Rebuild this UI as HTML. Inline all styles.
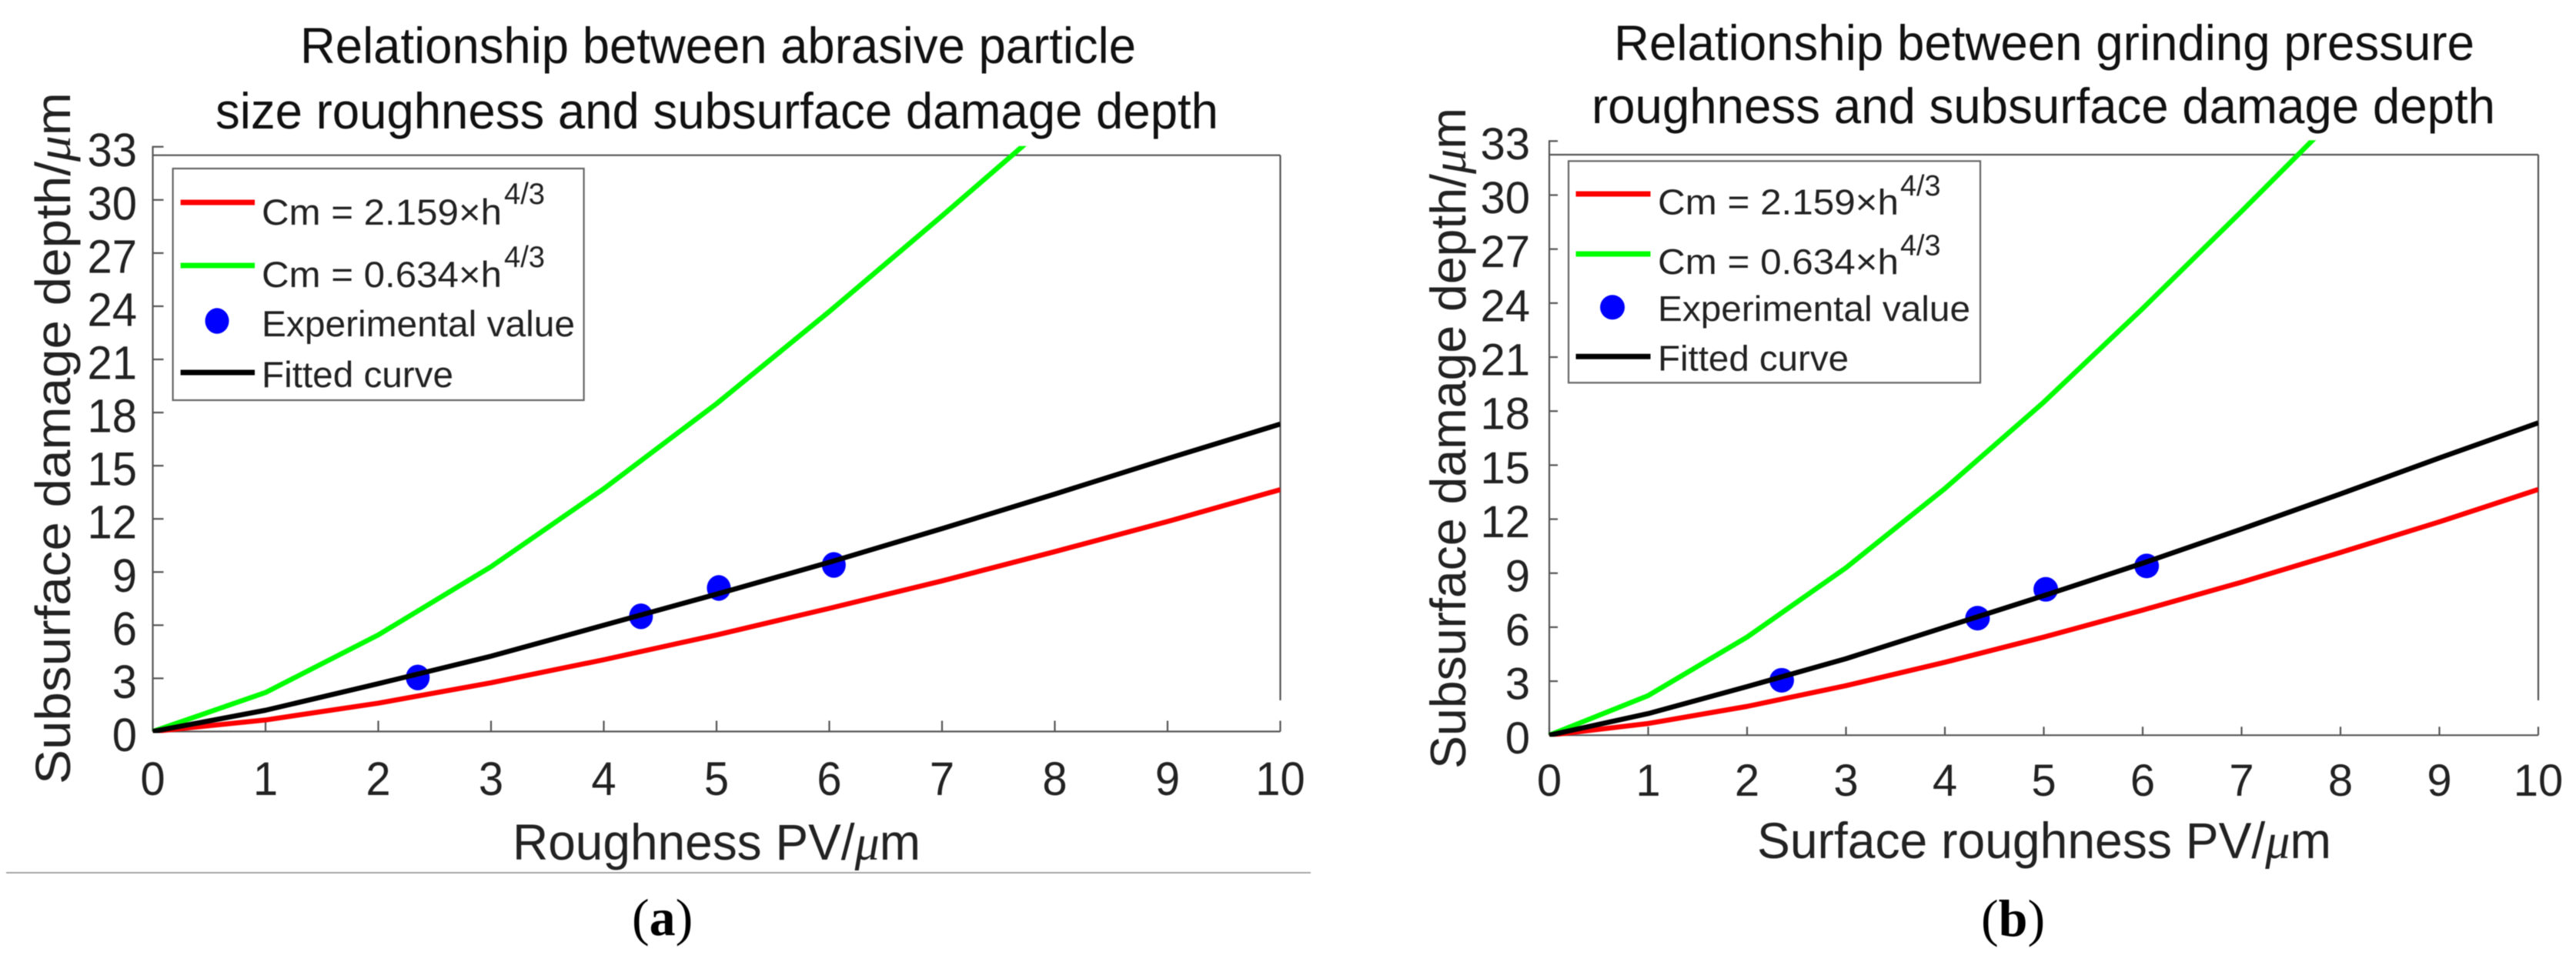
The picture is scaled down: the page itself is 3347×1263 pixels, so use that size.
<!DOCTYPE html>
<html lang="en">
<head>
<meta charset="utf-8">
<title>Subsurface damage depth charts</title>
<style>
html,body{margin:0;padding:0;background:#fff;}
svg{display:block;filter:blur(0.6px);}
text{font-family:"Liberation Sans",Arial,sans-serif;fill:#222;}
.mu{font-family:"Liberation Serif",serif;font-style:italic;}
.cap{font-family:"Liberation Serif",serif;fill:#000;}
</style>
</head>
<body>
<svg id="figure" xmlns="http://www.w3.org/2000/svg" width="3347" height="1263" viewBox="0 0 3347 1263">
  <rect x="0" y="0" width="3347" height="1263" fill="#fff"/>

  <!-- Panel A static text -->
  <g id="panel-a">
    <text x="390" y="82" font-size="66" textLength="1086" lengthAdjust="spacingAndGlyphs" style="fill:#111">Relationship between abrasive particle</text>
    <text x="280" y="167" font-size="66" textLength="1303" lengthAdjust="spacingAndGlyphs" style="fill:#111">size roughness and subsurface damage depth</text>
    <text transform="translate(91,1019) rotate(-90)" font-size="64" textLength="899" lengthAdjust="spacingAndGlyphs">Subsurface damage depth/<tspan class="mu">μ</tspan>m</text>
    <text x="666" y="1117" font-size="66" textLength="530" lengthAdjust="spacingAndGlyphs">Roughness PV/<tspan class="mu">μ</tspan>m</text>
  </g>

  <!-- Panel B static text -->
  <g id="panel-b">
    <text x="2097" y="78" font-size="65" textLength="1118" lengthAdjust="spacingAndGlyphs" style="fill:#111">Relationship between grinding pressure</text>
    <text x="2068" y="160" font-size="65" textLength="1174" lengthAdjust="spacingAndGlyphs" style="fill:#111">roughness and subsurface damage depth</text>
    <text transform="translate(1904,999) rotate(-90)" font-size="65" textLength="859" lengthAdjust="spacingAndGlyphs">Subsurface damage depth/<tspan class="mu">μ</tspan>m</text>
    <text x="2283" y="1115" font-size="66" textLength="746" lengthAdjust="spacingAndGlyphs">Surface roughness PV/<tspan class="mu">μ</tspan>m</text>
  </g>

  <line x1="8" y1="1134" x2="1703" y2="1134" stroke="#8a8a8a" stroke-width="1.6"/>
  <text class="cap" x="821" y="1215" font-size="68">(<tspan font-weight="bold">a</tspan>)</text>
  <text class="cap" x="2574" y="1216" font-size="68">(<tspan font-weight="bold">b</tspan>)</text>
</svg>

<script>
// Shared axis data
const xTickLabels = ["0","1","2","3","4","5","6","7","8","9","10"];
const yTickLabels = ["0","3","6","9","12","15","18","21","24","27","30","33"];

// Panel A values
const panelARedX = [0,1,2,3,4,5,6,7,8,9,10];
const panelARedY = [0,0.65,1.6,2.75,4.05,5.45,6.95,8.5,10.15,11.85,13.65];
const panelAGreenX = [0,1,2,3,4,5,6,7,8];
const panelAGreenY = [0,2.2,5.45,9.3,13.7,18.5,23.7,29.1,34.6];
const panelABlackX = [0,1,2,3,4,5,6,7,8,9,10];
const panelABlackY = [0,1.2,2.7,4.25,6.0,7.75,9.55,11.45,13.4,15.4,17.35];
const panelAPointsX = [2.35,4.33,5.02,6.04];
const panelAPointsY = [3.05,6.5,8.1,9.4];

// Panel B values
const panelBRedX = [0,1,2,3,4,5,6,7,8,9,10];
const panelBRedY = [0,0.65,1.6,2.75,4.05,5.45,6.95,8.5,10.15,11.85,13.65];
const panelBGreenX = [0,1,2,3,4,5,6,7,8];
const panelBGreenY = [0,2.2,5.45,9.3,13.7,18.5,23.7,29.1,34.6];
const panelBBlackX = [0,1,2,3,4,5,6,7,8,9,10];
const panelBBlackY = [0,1.2,2.7,4.25,6.0,7.75,9.55,11.45,13.4,15.4,17.35];
const panelBPointsX = [2.35,4.33,5.02,6.04];
const panelBPointsY = [3.05,6.5,8.1,9.4];

// Legend labels
const legendRedLabel = "Cm = 2.159×h";
const legendGreenLabel = "Cm = 0.634×h";
const legendPointsLabel = "Experimental value";
const legendBlackLabel = "Fitted curve";
const legendExponent = "4/3";

const SVGNS = "http://www.w3.org/2000/svg";

function el(parent, tag, attrs, text) {
  const node = document.createElementNS(SVGNS, tag);
  for (const k in attrs) node.setAttribute(k, attrs[k]);
  if (text !== undefined) node.textContent = text;
  parent.appendChild(node);
  return node;
}

function drawPanel(p) {
  const root = document.getElementById(p.id);
  const xMax = 10, yMax = 33;
  const sx = v => p.x0 + (p.x1 - p.x0) * v / xMax;
  const sy = v => p.y0 + (p.y33 - p.y0) * v / yMax;
  const axisColor = "#555";
  const axisWidth = 2.2;

  // frame
  const top = el(root, "line", {x1: sx(0), y1: p.frameTop, x2: sx(10), y2: p.frameTop, stroke: axisColor, "stroke-width": axisWidth});
  
  
  const right = el(root, "line", {x1: sx(10), y1: p.frameTop, x2: sx(10), y2: 910, stroke: axisColor, "stroke-width": axisWidth});
  
  
  const xAxis = el(root, "line", {x1: sx(0), y1: sy(0), x2: sx(10), y2: sy(0), stroke: axisColor, "stroke-width": axisWidth});
  
  
  const yAxis = el(root, "line", {x1: sx(0), y1: sy(33) - 1, x2: sx(0), y2: sy(0), stroke: axisColor, "stroke-width": axisWidth});
  
  

  // x ticks
  xTickLabels.forEach(label => {
    const v = Number(label);
    const t = el(root, "line", {x1: sx(v), y1: sy(0), x2: sx(v), y2: sy(0) - p.tickLen, stroke: axisColor, "stroke-width": axisWidth});
    
    
    const tx = el(root, "text", {
      transform: "translate(" + sx(v) + "," + p.xLabelBase + ") scale(" + p.tickScale + ",1)",
      "font-size": p.tickFont, "text-anchor": "middle"
    }, label);
    
    
  });

  // y ticks
  yTickLabels.forEach(label => {
    const v = Number(label);
    const t = el(root, "line", {x1: sx(0), y1: sy(v), x2: sx(0) + p.tickLen, y2: sy(v), stroke: axisColor, "stroke-width": axisWidth});
    
    
    const tx = el(root, "text", {
      transform: "translate(" + p.yLabelRight + "," + (sy(v) + p.yLabelDy) + ") scale(" + p.tickScale + ",1)",
      "font-size": p.tickFont, "text-anchor": "end"
    }, label);
    
    
  });

  // clip region
  const defs = el(root, "defs", {});
  const clip = el(defs, "clipPath", {id: p.id + "-clip"});
  el(clip, "rect", {x: sx(0) - 2, y: sy(33) - 1, width: sx(10) - sx(0) + 2, height: sy(0) - sy(33) + 3});

  const toPts = (xs, ys) => xs.map((x, i) => sx(x) + "," + sy(ys[i])).join(" ");
  const clipRef = "url(#" + p.id + "-clip)";

  const red = el(root, "polyline", {points: toPts(p.redX, p.redY), fill: "none", stroke: "#ff0000", "stroke-width": 6.5, "stroke-linejoin": "round", "clip-path": clipRef});
  
  
  const green = el(root, "polyline", {points: toPts(p.greenX, p.greenY), fill: "none", stroke: "#00ff00", "stroke-width": 6.5, "stroke-linejoin": "round", "clip-path": clipRef});
  
  

  p.pointsX.forEach((x, i) => {
    const c = el(root, "ellipse", {cx: sx(x), cy: sy(p.pointsY[i]), rx: p.markerRx, ry: p.markerRy, fill: "#0000ff"});
    
    
  });

  const black = el(root, "polyline", {points: toPts(p.blackX, p.blackY), fill: "none", stroke: "#000", "stroke-width": 6.5, "stroke-linejoin": "round", "clip-path": clipRef});
  
  

  // legend
  const L = p.legend;
  const lg = el(root, "g", {});
  
  
  const box = el(lg, "rect", {x: L.x, y: L.y, width: L.w, height: L.h, fill: "#fff", stroke: "#666", "stroke-width": 2.2});
  
  

  const h1 = el(lg, "line", {x1: L.hx0, x2: L.hx1, y1: L.redY, y2: L.redY, stroke: "#ff0000", "stroke-width": 7});
  
  
  const h2 = el(lg, "line", {x1: L.hx0, x2: L.hx1, y1: L.greenY, y2: L.greenY, stroke: "#00ff00", "stroke-width": 7});
  
  
  const h3 = el(lg, "ellipse", {cx: L.mx, cy: L.my, rx: p.markerRx, ry: p.markerRy, fill: "#0000ff"});
  
  
  const h4 = el(lg, "line", {x1: L.hx0, x2: L.hx1, y1: L.blackY, y2: L.blackY, stroke: "#000", "stroke-width": 7});
  
  

  const lt = {"font-size": L.font, "lengthAdjust": "spacingAndGlyphs", x: L.tx};
  const t1 = el(lg, "text", Object.assign({}, lt, {y: L.b1, textLength: L.w1}), legendRedLabel);
  
  
  const s1 = el(lg, "text", {x: L.sx, y: L.s1, "font-size": L.supFont, textLength: L.sw, lengthAdjust: "spacingAndGlyphs"}, legendExponent);
  
  
  const t2 = el(lg, "text", Object.assign({}, lt, {y: L.b2, textLength: L.w1}), legendGreenLabel);
  
  
  const s2 = el(lg, "text", {x: L.sx, y: L.s2, "font-size": L.supFont, textLength: L.sw, lengthAdjust: "spacingAndGlyphs"}, legendExponent);
  
  
  const t3 = el(lg, "text", Object.assign({}, lt, {y: L.b3, textLength: L.w3}), legendPointsLabel);
  
  
  const t4 = el(lg, "text", Object.assign({}, lt, {y: L.b4, textLength: L.w4}), legendBlackLabel);
  
  
}

drawPanel({
  id: "panel-a", x0: 198.5, x1: 1663.5, y0: 950.5, y33: 190.7, frameTop: 201.7,
  tickFont: 61, tickScale: 0.95, tickLen: 14, xLabelBase: 1033, yLabelRight: 178, yLabelDy: 25.5,
  markerRx: 15.5, markerRy: 16.7,
  redX: panelARedX, redY: panelARedY, greenX: panelAGreenX, greenY: panelAGreenY,
  blackX: panelABlackX, blackY: panelABlackY, pointsX: panelAPointsX, pointsY: panelAPointsY,
  legend: {x: 224.6, y: 219, w: 534, h: 301, hx0: 234.6, hx1: 331, redY: 263, greenY: 345, blackY: 484, mx: 282, my: 417,
    font: 47, supFont: 39, tx: 340, b1: 292, b2: 373, b3: 437, b4: 503, w1: 312, w3: 407, w4: 249, sx: 655, sw: 53, s1: 265, s2: 347}
});

drawPanel({
  id: "panel-b", x0: 2013, x1: 3298, y0: 955.3, y33: 183.3, frameTop: 201,
  tickFont: 58, tickScale: 1, tickLen: 11, xLabelBase: 1034, yLabelRight: 1988, yLabelDy: 23.5,
  markerRx: 16, markerRy: 16,
  redX: panelBRedX, redY: panelBRedY, greenX: panelBGreenX, greenY: panelBGreenY,
  blackX: panelBBlackX, blackY: panelBBlackY, pointsX: panelBPointsX, pointsY: panelBPointsY,
  legend: {x: 2038, y: 209.3, w: 535, h: 288, hx0: 2047.5, hx1: 2144.5, redY: 252, greenY: 330, blackY: 463.3, mx: 2095, my: 399.3,
    font: 46, supFont: 38, tx: 2154, b1: 278.3, b2: 356, b3: 417, b4: 481.7, w1: 313, w3: 406, w4: 248, sx: 2469, sw: 52.5, s1: 254, s2: 331.7}
});
</script>
</body>
</html>
